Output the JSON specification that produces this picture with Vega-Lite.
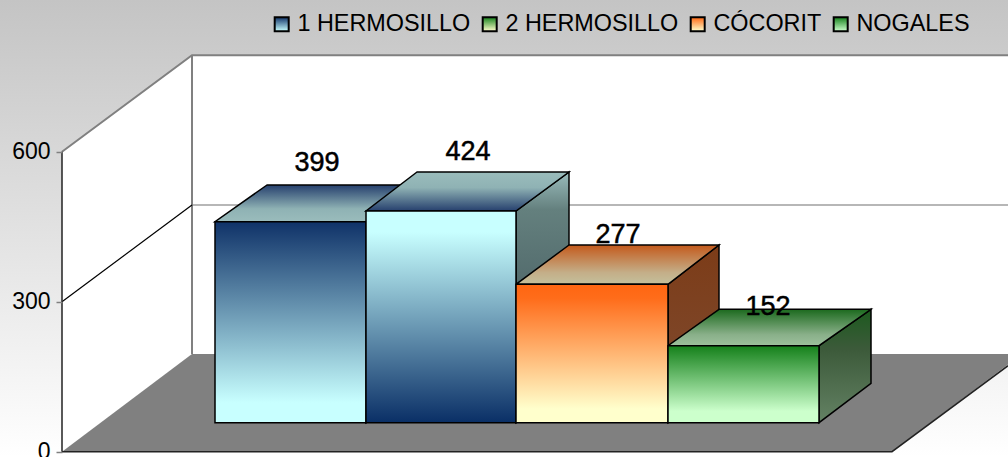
{
"$schema":"https://vega.github.io/schema/vega-lite/v6.json",
"width":1008,"height":457,"padding":0,"autosize":"none","background":"#ffffff",
"config":{"view":{"stroke":null},"font":"Liberation Sans"},
"encoding":{
"x":{"field":"x","type":"quantitative","scale":{"domain":[0,1008],"nice":false,"zero":false},"axis":null},
"y":{"field":"y","type":"quantitative","stack":null,"scale":{"domain":[-10.6,903.4],"nice":false,"zero":false},
"axis":{"values":[0,300,600],"title":null,"offset":-62,"domain":false,"grid":false,"ticks":true,"tickSize":6,"tickColor":"#808080","tickWidth":1.5,"labelPadding":6,"labelFontSize":23,"labelFont":"Liberation Sans","labelColor":"#000000","labelOverlap":false,"labelBound":false,"labelFlush":false,"zindex":1}}
},
"layer":[
{"data":{"values":[{"x":0,"x2":1008,"y":-10.6,"y2":903.4}]},
"mark":{"type":"rect","fill":{"gradient":"linear","x1":0,"y1":0,"x2":0,"y2":1,"stops":[{"offset":0,"color":"#c4c4c4"},{"offset":1,"color":"#ffffff"}]}},
"encoding":{"x2":{"field":"x2"},"y2":{"field":"y2"}}},
{"data":{"values":[{"x":192,"x2":1008,"y":195.4,"y2":792.8}]},
"mark":{"type":"rect","fill":"#ffffff"},
"encoding":{"x2":{"field":"x2"},"y2":{"field":"y2"}}},
{"data":{"values":[{"x":62,"y":600,"y2":0},{"x":192,"y":792.8,"y2":195.4}]},
"mark":{"type":"area","fill":"#ffffff"},
"encoding":{"y2":{"field":"y2"}}},
{"data":{"values":[{"y":0,"x":62,"x2":892},{"y":195.4,"x":192,"x2":1022}]},
"mark":{"type":"area","orient":"horizontal","fill":"#808080","clip":true},
"encoding":{"x2":{"field":"x2"}}},
{"data":{"values":[
{"id":"a","x":62,"y":600},{"id":"a","x":192,"y":792.8},{"id":"a","x":1008,"y":792.8},
{"id":"b","x":192,"y":792.8},{"id":"b","x":192,"y":195.4}]},
"mark":{"type":"line","color":"#808080","strokeWidth":2},
"encoding":{"detail":{"field":"id"}}},
{"data":{"values":[{"id":"c","x":192,"y":493.4},{"id":"c","x":1008,"y":493.4}]},
"mark":{"type":"line","color":"#707070","strokeWidth":1.2},
"encoding":{"detail":{"field":"id"}}},
{"data":{"values":[{"id":"d","x":62,"y":300},{"id":"d","x":192,"y":493.4}]},
"mark":{"type":"line","color":"#000000","strokeWidth":1.2},
"encoding":{"detail":{"field":"id"}}},
{"data":{"values":[
{"id":"e","x":62,"y":600},{"id":"e","x":62,"y":0},
{"id":"f","x":62,"y":0},{"id":"f","x":892,"y":0},{"id":"f","x":1008,"y":172}]},
"mark":{"type":"line","color":"#222222","strokeWidth":1.5,"clip":true},
"encoding":{"detail":{"field":"id"}}},
{"data":{"values":[{"x":366,"y":460,"y2":58},{"x":418,"y":533.4,"y2":136}]},
"mark":{"type":"area","stroke":"#000000","strokeWidth":1.5,"fill":"#5f7b7b"},
"encoding":{"y2":{"field":"y2"}}},
{"data":{"values":[{"x":516,"y":481.4,"y2":58},{"x":569,"y":559.4,"y2":136}]},
"mark":{"type":"area","stroke":"#000000","strokeWidth":1.5,"fill":{"gradient":"linear","x1":0,"y1":0,"x2":0,"y2":1,"stops":[{"offset":0,"color":"#9abcbc"},{"offset":0.15,"color":"#64807e"},{"offset":0.5,"color":"#50686a"},{"offset":1,"color":"#36505c"}]}},
"encoding":{"y2":{"field":"y2"}}},
{"data":{"values":[{"x":668,"y":334.8,"y2":58},{"x":719,"y":413.4,"y2":136}]},
"mark":{"type":"area","stroke":"#000000","strokeWidth":1.5,"fill":{"gradient":"linear","x1":0,"y1":0,"x2":0,"y2":1,"stops":[{"offset":0,"color":"#7c3c18"},{"offset":0.6,"color":"#7e4628"},{"offset":1,"color":"#85684c"}]}},
"encoding":{"y2":{"field":"y2"}}},
{"data":{"values":[{"x":819,"y":212,"y2":58},{"x":871,"y":284.8,"y2":136.8}]},
"mark":{"type":"area","stroke":"#000000","strokeWidth":1.5,"fill":{"gradient":"linear","x1":0,"y1":0,"x2":0,"y2":1,"stops":[{"offset":0,"color":"#1c5a1e"},{"offset":0.35,"color":"#3c5a3a"},{"offset":1,"color":"#648264"}]}},
"encoding":{"y2":{"field":"y2"}}},
{"data":{"values":[{"y":460,"x":215,"x2":366},{"y":533.4,"x":267,"x2":418}]},
"mark":{"type":"area","orient":"horizontal","stroke":"#000000","strokeWidth":1.5,"fill":{"gradient":"linear","x1":0,"y1":0,"x2":0,"y2":1,"stops":[{"offset":0,"color":"#26406e"},{"offset":0.65,"color":"#8fb2b4"},{"offset":1,"color":"#9abcbc"}]}},
"encoding":{"x2":{"field":"x2"}}},
{"data":{"values":[{"y":481.4,"x":366,"x2":516},{"y":559.4,"x":417,"x2":569}]},
"mark":{"type":"area","orient":"horizontal","stroke":"#000000","strokeWidth":1.5,"fill":{"gradient":"linear","x1":0,"y1":0,"x2":0,"y2":1,"stops":[{"offset":0,"color":"#9abcbc"},{"offset":0.4,"color":"#8fb2b4"},{"offset":1,"color":"#26406e"}]}},
"encoding":{"x2":{"field":"x2"}}},
{"data":{"values":[{"y":334.8,"x":516,"x2":668},{"y":413.4,"x":569,"x2":719}]},
"mark":{"type":"area","orient":"horizontal","stroke":"#000000","strokeWidth":1.5,"fill":{"gradient":"linear","x1":0,"y1":0,"x2":0,"y2":1,"stops":[{"offset":0,"color":"#c45a1c"},{"offset":0.7,"color":"#c4ae88"},{"offset":1,"color":"#c4c09c"}]}},
"encoding":{"x2":{"field":"x2"}}},
{"data":{"values":[{"y":212,"x":668,"x2":819},{"y":284.8,"x":719,"x2":871}]},
"mark":{"type":"area","orient":"horizontal","stroke":"#000000","strokeWidth":1.5,"fill":{"gradient":"linear","x1":0,"y1":0,"x2":0,"y2":1,"stops":[{"offset":0,"color":"#1c6a1e"},{"offset":0.7,"color":"#8ab08a"},{"offset":1,"color":"#9cc09c"}]}},
"encoding":{"x2":{"field":"x2"}}},
{"data":{"values":[{"series":"1 HERMOSILLO","x":215,"x2":366,"y":58,"y2":460}]},
"mark":{"type":"rect","stroke":"#000000","strokeWidth":1.5,"fill":{"gradient":"linear","x1":0,"y1":0,"x2":0,"y2":1,"stops":[{"offset":0,"color":"#0f3268"},{"offset":0.9,"color":"#c8ffff"},{"offset":1,"color":"#c8ffff"}]}},
"encoding":{"x2":{"field":"x2"},"y2":{"field":"y2"}}},
{"data":{"values":[{"series":"2 HERMOSILLO","x":366,"x2":516,"y":58,"y2":481.4}]},
"mark":{"type":"rect","stroke":"#000000","strokeWidth":1.5,"fill":{"gradient":"linear","x1":0,"y1":0,"x2":0,"y2":1,"stops":[{"offset":0,"color":"#c8ffff"},{"offset":0.1,"color":"#c8ffff"},{"offset":1,"color":"#0a2f66"}]}},
"encoding":{"x2":{"field":"x2"},"y2":{"field":"y2"}}},
{"data":{"values":[{"series":"CÓCORIT","x":516,"x2":668,"y":58,"y2":334.8}]},
"mark":{"type":"rect","stroke":"#000000","strokeWidth":1.5,"fill":{"gradient":"linear","x1":0,"y1":0,"x2":0,"y2":1,"stops":[{"offset":0,"color":"#ff6611"},{"offset":0.1,"color":"#ff6c1a"},{"offset":0.9,"color":"#ffffcc"},{"offset":1,"color":"#ffffcc"}]}},
"encoding":{"x2":{"field":"x2"},"y2":{"field":"y2"}}},
{"data":{"values":[{"series":"NOGALES","x":668,"x2":819,"y":58,"y2":212}]},
"mark":{"type":"rect","stroke":"#000000","strokeWidth":1.5,"fill":{"gradient":"linear","x1":0,"y1":0,"x2":0,"y2":1,"stops":[{"offset":0,"color":"#14801a"},{"offset":0.85,"color":"#ccffcc"},{"offset":1,"color":"#ccffcc"}]}},
"encoding":{"x2":{"field":"x2"},"y2":{"field":"y2"}}},
{"data":{"values":[
{"series":"1 HERMOSILLO","value":399,"x":317,"y":577.4},
{"series":"2 HERMOSILLO","value":424,"x":468,"y":599.4},
{"series":"CÓCORIT","value":277,"x":618,"y":433.4},
{"series":"NOGALES","value":152,"x":768,"y":289.4}]},
"mark":{"type":"text","fontSize":27,"font":"Liberation Sans","color":"#000000","align":"center","baseline":"middle","stroke":"#000000","strokeWidth":0.5},
"encoding":{"text":{"field":"value","type":"quantitative"}}},
{"data":{"values":[
{"series":"1 HERMOSILLO","x":-50,"y":-100},
{"series":"2 HERMOSILLO","x":-50,"y":-100},
{"series":"CÓCORIT","x":-50,"y":-100},
{"series":"NOGALES","x":-50,"y":-100}]},
"mark":{"type":"point","filled":true,"size":0,"clip":true},
"encoding":{"color":{"field":"series","type":"nominal",
"scale":{"domain":["1 HERMOSILLO","2 HERMOSILLO","CÓCORIT","NOGALES"],
"range":[
{"signal":"{gradient:'linear',x1:0,y1:0,x2:0,y2:1,stops:[{offset:0,color:'#0f3268'},{offset:1,color:'#c8ffff'}]}"},
{"signal":"{gradient:'linear',x1:0,y1:0,x2:0,y2:1,stops:[{offset:0,color:'#14801a'},{offset:1,color:'#ffffcc'}]}"},
{"signal":"{gradient:'linear',x1:0,y1:0,x2:0,y2:1,stops:[{offset:0,color:'#ff6611'},{offset:1,color:'#ffffcc'}]}"},
{"signal":"{gradient:'linear',x1:0,y1:0,x2:0,y2:1,stops:[{offset:0,color:'#14801a'},{offset:1,color:'#ccffcc'}]}"}
]},
"legend":{"orient":"none","legendX":270,"legendY":12,"direction":"horizontal","columns":4,"title":null,"symbolType":"square","symbolSize":196,"symbolStrokeColor":"#000000","symbolStrokeWidth":2,"symbolOpacity":1,"labelFontSize":23.4,"labelFont":"Liberation Sans","labelColor":"#000000","labelOffset":4,"columnPadding":7,"labelLimit":300}}}}
]
}
